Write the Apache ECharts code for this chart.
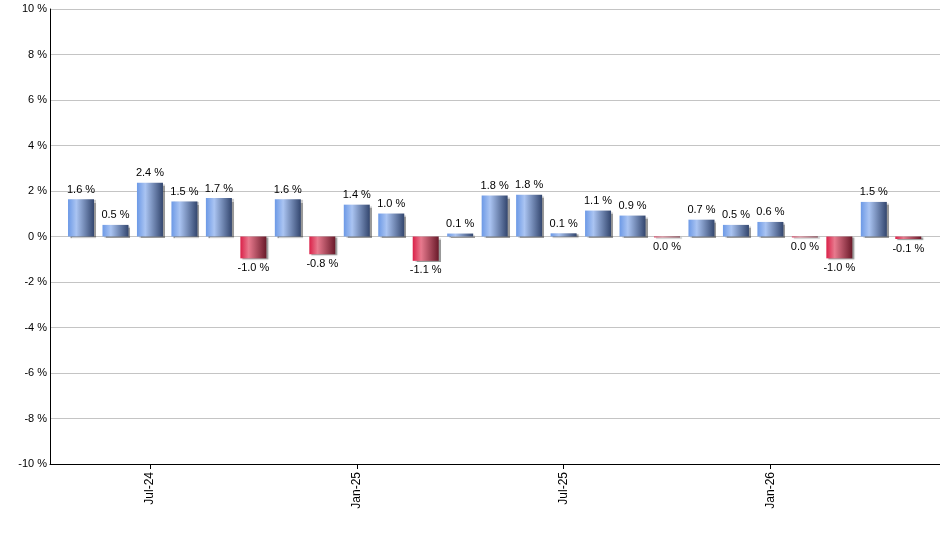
<!DOCTYPE html>
<html>
<head>
<meta charset="utf-8">
<script src="https://cdn.jsdelivr.net/npm/echarts@6/dist/echarts.min.js"></script>
<style>
  html, body { margin: 0; padding: 0; background: #fff; }
  #chart { width: 940px; height: 550px; }
</style>
</head>
<body>
<div id="chart"></div>
<script>
// monthly change, May-24 .. May-26
const months = [
  "May-24", "Jun-24", "Jul-24", "Aug-24", "Sep-24", "Oct-24", "Nov-24", "Dec-24",
  "Jan-25", "Feb-25", "Mar-25", "Apr-25", "May-25", "Jun-25", "Jul-25", "Aug-25",
  "Sep-25", "Oct-25", "Nov-25", "Dec-25", "Jan-26", "Feb-26", "Mar-26", "Apr-26", "May-26"
];
const changes = [
  1.64, 0.51, 2.36, 1.54, 1.69, -0.96, 1.64, -0.78,
  1.40, 1.01, -1.07, 0.13, 1.80, 1.84, 0.14, 1.14,
  0.92, -0.04, 0.74, 0.51, 0.64, -0.04, -0.96, 1.52, -0.11
];
const tickIdx = [2, 8, 14, 20];
const yTicks = { min: -10, max: 10, step: 2 };

const blueFill = new echarts.graphic.LinearGradient(0, 0, 1, 0, [
  { offset: 0, color: "#6c99e6" },
  { offset: 0.32, color: "#aac4f2" },
  { offset: 1, color: "#33466e" }
]);
const redFill = new echarts.graphic.LinearGradient(0, 0, 1, 0, [
  { offset: 0, color: "#da2048" },
  { offset: 0.32, color: "#e87a8e" },
  { offset: 1, color: "#6a1a2a" }
]);

const fmt = (v) => (Math.abs(v) < 0.05 ? "0.0" : v.toFixed(1)) + " %";

const seriesData = changes.map((v, i) => ({
  value: [i, v],
  itemStyle: { color: v >= 0 ? blueFill : redFill },
  label: { position: v >= 0 ? "top" : "bottom" }
}));

const chart = echarts.init(document.getElementById("chart"), null, { renderer: "canvas" });

chart.setOption({
  animation: false,
  backgroundColor: "#fff",
  textStyle: { fontFamily: "Liberation Sans, Arial, sans-serif" },
  grid: { left: 50, right: 0, top: 9, bottom: 86, containLabel: false },
  xAxis: {
    type: "value",
    min: -0.9,
    max: 24.92,
    splitLine: { show: false },
    axisLine: { onZero: false, lineStyle: { color: "#000", width: 1 } },
    axisTick: { show: true, length: 5, lineStyle: { color: "#000" }, customValues: tickIdx },
    axisLabel: {
      customValues: tickIdx,
      rotate: 90,
      margin: 8,
      color: "#000",
      fontSize: 12,
      formatter: (v) => months[Math.round(v)] || ""
    }
  },
  yAxis: {
    type: "value",
    min: yTicks.min,
    max: yTicks.max,
    interval: yTicks.step,
    axisLine: { show: true, onZero: false, lineStyle: { color: "#000", width: 1 } },
    axisTick: { show: false },
    splitLine: { lineStyle: { color: "#c4c4c4", width: 1 } },
    axisLabel: { color: "#000", fontSize: 11, margin: 3, formatter: (v) => v + " %" }
  },
  series: [
    {
      type: "bar",
      barWidth: 26,
      data: seriesData,
      itemStyle: {
        shadowColor: "rgba(0,0,0,0.4)",
        shadowOffsetX: 2,
        shadowOffsetY: 1,
        shadowBlur: 1
      },
      label: {
        show: true,
        distance: 4,
        color: "#000",
        fontSize: 11,
        formatter: (p) => fmt(p.value[1])
      }
    }
  ]
});
</script>
</body>
</html>
